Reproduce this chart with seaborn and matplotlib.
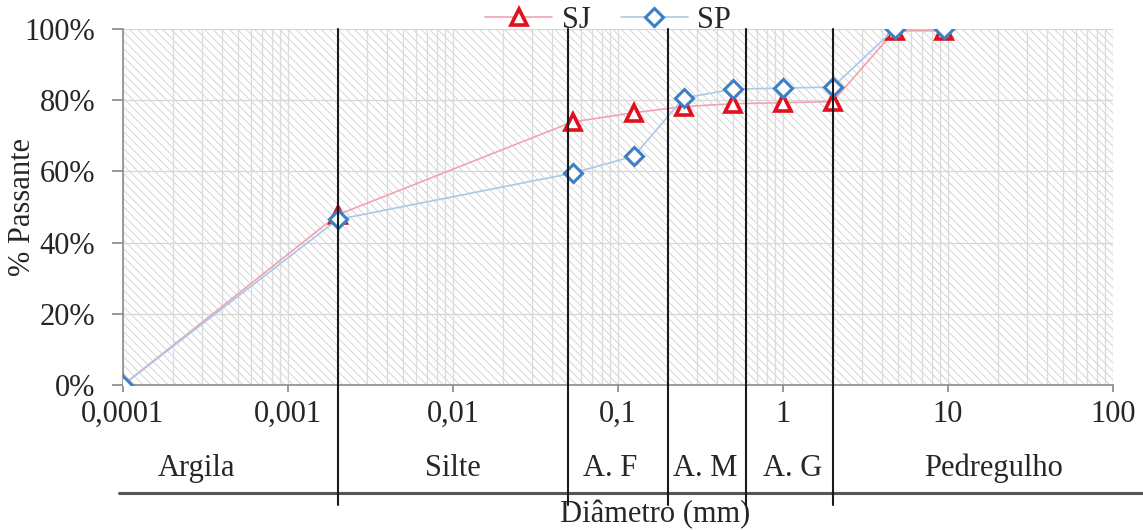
import numpy as np
import pandas as pd
import seaborn as sns
import matplotlib.pyplot as plt
from matplotlib.patches import Rectangle
from matplotlib.ticker import PercentFormatter, FixedLocator, FixedFormatter, LogLocator
import matplotlib.transforms as mtransforms

# diameters (mm) and % passing
diam = [0.0001, 0.002, 0.053, 0.125, 0.25, 0.5, 1.0, 2.0, 4.75, 9.5]
sj = [0.0, 47.8, 73.9, 76.5, 78.2, 79.0, 79.3, 79.6, 99.5, 99.5]
sp = [0.0, 46.5, 59.5, 64.3, 80.6, 83.1, 83.4, 83.7, 100.0, 100.0]

x_ticks = [0.0001, 0.001, 0.01, 0.1, 1, 10, 100]
x_tick_labels = ["0,0001", "0,001", "0,01", "0,1", "1", "10", "100"]

# soil fraction limits and names
limits = [0.002, 0.05, 0.2, 0.6, 2.0]
fractions = ["Argila", "Silte", "A. F", "A. M", "A. G", "Pedregulho"]
fraction_x = [0.00028, 0.01, 0.089, 0.336, 1.15, 19.0]

df = pd.DataFrame({"diam": diam, "SJ": sj, "SP": sp})

sns.set_theme(style="white")
plt.rcParams["font.family"] = ["Liberation Serif", "DejaVu Serif"]
plt.rcParams["font.size"] = 22
plt.rcParams["hatch.linewidth"] = 0.6

fig = plt.figure(figsize=(11.43, 5.30), dpi=100)
ax = fig.add_axes([123 / 1143, 145 / 530, 990 / 1143, 356 / 530])

# hatched background
ax.add_patch(Rectangle((0, 0), 1, 1, transform=ax.transAxes, facecolor="white",
                       edgecolor="#cfcfcf", hatch="\\\\\\\\", lw=0, zorder=0))

sns.lineplot(data=df, x="diam", y="SJ", ax=ax, color="#f2a3ad", lw=1.2,
             marker="^", markersize=11, markerfacecolor="white",
             markeredgecolor="#e0101e", markeredgewidth=2.6, label="SJ", zorder=4)
sns.lineplot(data=df, x="diam", y="SP", ax=ax, color="#a9c8ea", lw=1.2,
             marker="D", markersize=9, markerfacecolor="white",
             markeredgecolor="#3d7fc4", markeredgewidth=2.2, label="SP", zorder=5)

ax.set_xscale("log")
ax.set_xlim(0.0001, 100)
ax.set_ylim(0, 100)
ax.xaxis.set_major_locator(FixedLocator(x_ticks))
ax.xaxis.set_major_formatter(FixedFormatter(x_tick_labels))
ax.xaxis.set_minor_locator(LogLocator(base=10, subs=np.arange(2, 10), numticks=20))
ax.set_yticks([0, 20, 40, 60, 80, 100])
ax.yaxis.set_major_formatter(PercentFormatter(decimals=0))

ax.grid(True, which="both", axis="x", color="#dadada", lw=0.9)
ax.grid(True, which="major", axis="y", color="#d6d6d6", lw=0.9)
ax.set_axisbelow(True)

for s in ["top", "right"]:
    ax.spines[s].set_visible(False)
for s in ["left", "bottom"]:
    ax.spines[s].set_color("#8c8c8c")
    ax.spines[s].set_linewidth(1.2)

ax.tick_params(axis="x", which="major", direction="out", length=5, color="#8c8c8c",
               labelsize=22, pad=6, bottom=True)
ax.tick_params(axis="x", which="minor", length=0)
ax.tick_params(axis="y", direction="out", length=8, color="#8c8c8c",
               labelsize=22, pad=12, left=True)

ax.set_xlabel("")
ax.set_ylabel("% Passante", fontsize=22)
ax.yaxis.set_label_coords(-0.087, 0.5)

# fraction boundary lines extending below the axis
for lim in limits:
    ax.axvline(lim, ymin=-0.337, ymax=1, color="#1a1a1a", lw=1.5, clip_on=False, zorder=6)

trans = mtransforms.blended_transform_factory(ax.transData, ax.transAxes)
for name, xf in zip(fractions, fraction_x):
    ax.text(xf, -0.235, name, transform=trans, ha="center", va="center", fontsize=22)

ax.plot([-0.004, 1.04], [-0.303, -0.303], transform=ax.transAxes, color="#555555",
        lw=2.2, clip_on=False)
ax.text(0.537, -0.365, "Diâmetro (mm)", transform=ax.transAxes, ha="center",
        va="center", fontsize=22)

ax.legend(loc="center", bbox_to_anchor=(0.49, 1.025), ncol=2, frameon=False,
          fontsize=22, handlelength=2.2, columnspacing=1.0, handletextpad=0.3,
          borderaxespad=0)

fig.savefig("out.png", dpi=100)
